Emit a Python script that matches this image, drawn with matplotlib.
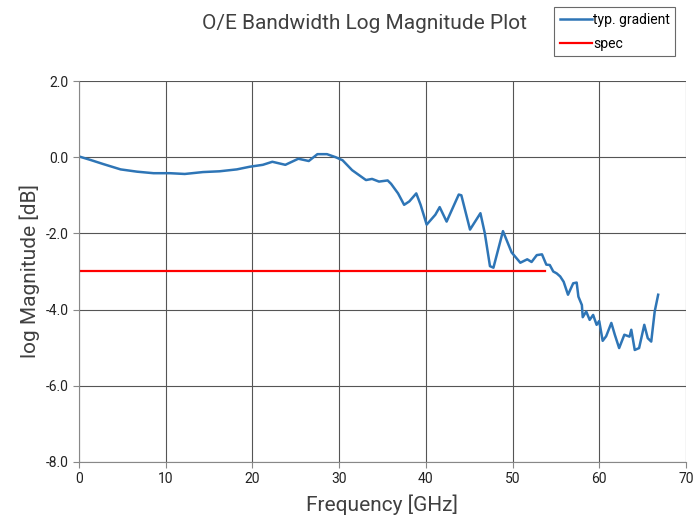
import matplotlib.pyplot as plt
from matplotlib.ticker import FormatStrFormatter, MultipleLocator

freq_ghz = [0.0, 1.3, 2.8, 4.8, 6.7, 8.6, 10.5, 12.2, 14.3, 16.2, 18.2, 19.7,
            21.2, 22.3, 23.8, 25.3, 26.5, 27.5, 28.6, 29.6, 30.4, 31.5, 33.1,
            33.8, 34.6, 35.6, 36.0, 36.8, 37.5, 38.1, 38.9, 39.4, 40.1, 41.1,
            41.6, 42.4, 43.8, 44.1, 45.1, 46.3, 46.8, 47.4, 47.8, 48.9, 49.9,
            50.9, 51.7, 52.2, 52.8, 53.4, 53.9, 54.3, 54.7, 55.1, 55.5, 55.9,
            56.4, 57.0, 57.4, 57.6, 58.0, 58.1, 58.5, 58.9, 59.3, 59.7, 60.0,
            60.4, 60.8, 61.4, 61.8, 62.3, 62.9, 63.5, 63.7, 64.1, 64.6, 65.2,
            65.6, 66.0, 66.4, 66.8]
mag_db = [0.02, -0.07, -0.18, -0.32, -0.38, -0.42, -0.42, -0.44, -0.39, -0.37,
          -0.32, -0.25, -0.20, -0.12, -0.20, -0.04, -0.10, 0.08, 0.08, 0.00,
          -0.08, -0.34, -0.60, -0.57, -0.64, -0.61, -0.70, -0.95, -1.25, -1.16,
          -0.95, -1.25, -1.77, -1.51, -1.31, -1.69, -0.98, -1.00, -1.90, -1.47,
          -1.99, -2.86, -2.90, -1.94, -2.50, -2.77, -2.68, -2.75, -2.57, -2.55,
          -2.82, -2.83, -3.00, -3.05, -3.13, -3.27, -3.61, -3.31, -3.29, -3.66,
          -3.88, -4.20, -4.05, -4.27, -4.14, -4.40, -4.30, -4.82, -4.70, -4.35,
          -4.66, -5.01, -4.66, -4.71, -4.53, -5.06, -5.01, -4.40, -4.75, -4.84,
          -4.05, -3.61]

spec_freq = [0.0, 53.8]
spec_db = [-3.0, -3.0]

fig = plt.figure(figsize=(6.96, 5.16), dpi=100)
ax = fig.add_axes([0.1135, 0.1047, 0.872, 0.7383])

ax.plot(freq_ghz, mag_db, color="#2E75B6", lw=1.8, label="typ. gradient")
ax.plot(spec_freq, spec_db, color="#FF0000", lw=1.6, label="spec")

ax.set_xlim(0, 70)
ax.set_ylim(-8, 2)
ax.xaxis.set_major_locator(MultipleLocator(10))
ax.yaxis.set_major_locator(MultipleLocator(2))
ax.yaxis.set_major_formatter(FormatStrFormatter("%.1f"))
ax.grid(True, color="#555555", lw=0.8)
ax.set_axisbelow(True)
for side in ["top", "right"]:
    ax.spines[side].set_visible(False)
for side in ["left", "bottom"]:
    ax.spines[side].set_color("#888888")
ax.tick_params(direction="out", length=4, color="#888888", labelsize=10, labelcolor="#222222")

font = "Roboto"
for lbl in ax.get_xticklabels() + ax.get_yticklabels():
    lbl.set_fontfamily(font)

ax.set_xlabel("Frequency [GHz]", fontsize=15, family=font, color="#404040", labelpad=6)
ax.set_ylabel("log Magnitude [dB]", fontsize=15, family=font, color="#404040", labelpad=4)
fig.text(0.524, 0.955, "O/E Bandwidth Log Magnitude Plot", ha="center", va="center",
         fontsize=15, family=font, color="#404040")

leg = fig.legend(loc="upper left", bbox_to_anchor=(0.786, 0.999), fancybox=False,
                 edgecolor="#444444", handlelength=2.3, handletextpad=0.1,
                 borderpad=0.4, labelspacing=0.7, prop={"family": font, "size": 10})
leg.get_frame().set_linewidth(0.8)

fig.savefig("out.png", dpi=100)
